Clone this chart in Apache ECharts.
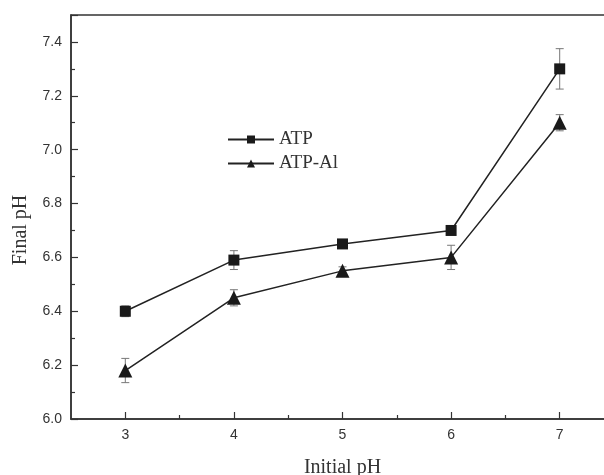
<!DOCTYPE html>
<html>
<head>
<meta charset="utf-8">
<script src="https://cdn.jsdelivr.net/npm/echarts@6/dist/echarts.min.js"></script>
<style>
  html, body { margin: 0; padding: 0; background: #fff; }
  #main { width: 604px; height: 475px; }
</style>
</head>
<body>
<div id="main"></div>
<script>
  // data
  const initialPh = [3, 4, 5, 6, 7];
  const atpFinal = [6.40, 6.59, 6.65, 6.70, 7.30];
  const atpErr = [0.02, 0.035, 0.015, 0.015, 0.075];
  const atpAlFinal = [6.18, 6.45, 6.55, 6.60, 7.10];
  const atpAlErr = [0.045, 0.03, 0.015, 0.045, 0.03];
  const xTicks = [3, 4, 5, 6, 7];
  const xMinorTicks = [3.5, 4.5, 5.5, 6.5];
  const yTicks = [6.0, 6.2, 6.4, 6.6, 6.8, 7.0, 7.2, 7.4];

  let myChart = echarts.init(document.getElementById('main'));

  const pairs = (xs, ys) => xs.map((x, i) => [x, ys[i]]);
  const errRows = (xs, ys, es) => xs.map((x, i) => [x, ys[i] - es[i], ys[i] + es[i]]);

  // error bars drawn through the axes
  const renderErr = (params, api) => {
    let lo = api.coord([api.value(0), api.value(1)]);
    let hi = api.coord([api.value(0), api.value(2)]);
    let w = 4;
    let style = { stroke: '#777', lineWidth: 1 };
    return {
      type: 'group',
      children: [
        { type: 'line', shape: { x1: lo[0], y1: lo[1], x2: hi[0], y2: hi[1] }, style: style },
        { type: 'line', shape: { x1: lo[0] - w, y1: lo[1], x2: lo[0] + w, y2: lo[1] }, style: style },
        { type: 'line', shape: { x1: hi[0] - w, y1: hi[1], x2: hi[0] + w, y2: hi[1] }, style: style }
      ]
    };
  };

  const axisTxt = { fontFamily: 'Liberation Sans', fontSize: 14, color: '#333' };
  const nameTxt = { fontFamily: 'Liberation Serif', fontSize: 20, color: '#333' };

  let option = {
    animation: false,
    backgroundColor: '#fff',
    grid: {
      left: 71, top: 15, right: -10, bottom: 56,
      outerBoundsMode: 'none',
      show: true, borderColor: '#333', borderWidth: 1.5
    },
    legend: {
      orient: 'vertical',
      left: 227, top: 130, padding: 0,
      itemWidth: 46, itemHeight: 10, itemGap: 5,
      textStyle: { fontFamily: 'Liberation Serif', fontSize: 19, color: '#333' },
      data: ['ATP', 'ATP-Al']
    },
    xAxis: [
      {
        type: 'value',
        min: 2.5, max: 7.5,
        name: 'Initial pH', nameLocation: 'middle', nameGap: 39,
        nameTextStyle: nameTxt,
        axisLine: { lineStyle: { color: '#333', width: 1.5 } },
        axisTick: { inside: true, length: 7, customValues: xTicks, lineStyle: { color: '#333', width: 1.2 } },
        axisLabel: Object.assign({ margin: 9, customValues: xTicks }, axisTxt),
        splitLine: { show: false }
      },
      {
        // half-step ticks along the bottom
        type: 'value', position: 'bottom',
        min: 2.5, max: 7.5,
        axisLine: { show: false },
        axisTick: { inside: true, length: 4, customValues: xMinorTicks, lineStyle: { color: '#333', width: 1.2 } },
        axisLabel: { show: false },
        splitLine: { show: false }
      }
    ],
    yAxis: {
      type: 'value',
      min: 6.0, max: 7.5, interval: 0.2,
      name: 'Final pH', nameLocation: 'middle', nameGap: 40,
      nameTextStyle: Object.assign({ padding: [0, 26, 0, 0] }, nameTxt),
      axisLine: { lineStyle: { color: '#333', width: 1.5 } },
      axisTick: { inside: true, length: 7, lineStyle: { color: '#333', width: 1.2 } },
      minorTick: { show: true, splitNumber: 2, length: 4, lineStyle: { color: '#333', width: 1.2 } },
      axisLabel: Object.assign({
        margin: 9,
        formatter: v => (yTicks.some(t => Math.abs(t - v) < 1e-6) ? v.toFixed(1) : '')
      }, axisTxt),
      splitLine: { show: false }
    },
    series: [
      {
        name: 'ATP', type: 'line',
        data: pairs(initialPh, atpFinal),
        symbol: 'rect', symbolSize: 11,
        itemStyle: { color: '#1a1a1a' },
        lineStyle: { color: '#222', width: 1.5 },
        z: 3
      },
      {
        name: 'ATP-Al', type: 'line',
        data: pairs(initialPh, atpAlFinal),
        symbol: 'triangle', symbolSize: 14,
        itemStyle: { color: '#1a1a1a' },
        lineStyle: { color: '#222', width: 1.5 },
        z: 3
      },
      {
        type: 'custom', renderItem: renderErr,
        data: errRows(initialPh, atpFinal, atpErr), z: 2, silent: true
      },
      {
        type: 'custom', renderItem: renderErr,
        data: errRows(initialPh, atpAlFinal, atpAlErr), z: 2, silent: true
      }
    ]
  };

  myChart.setOption(option);
</script>
</body>
</html>
